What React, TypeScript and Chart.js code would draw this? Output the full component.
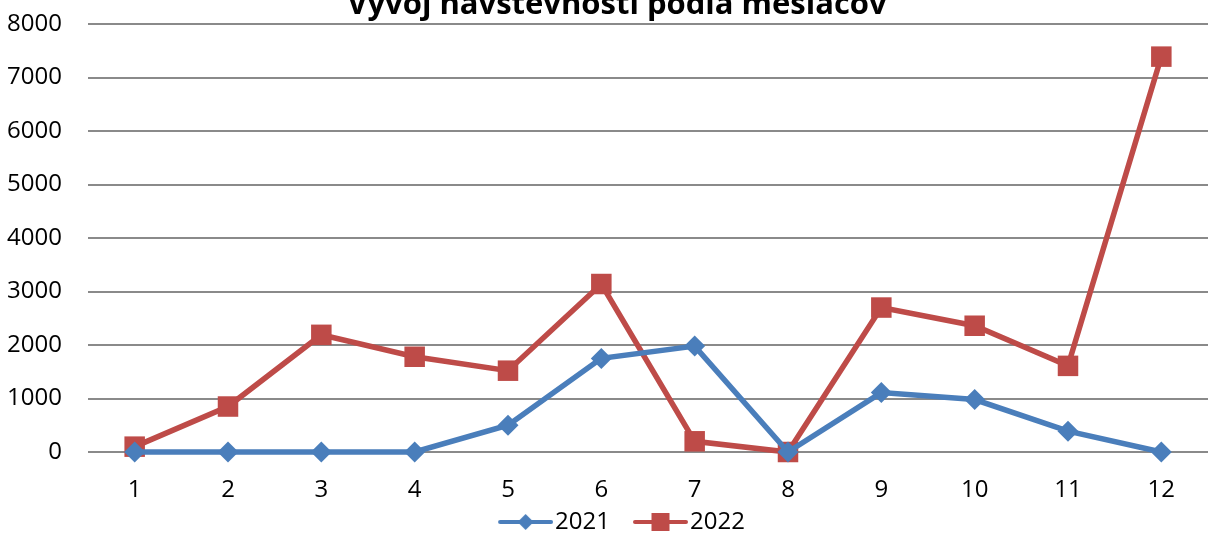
import React, { useEffect, useRef } from "react";
import { Chart, registerables } from "chart.js";

Chart.register(...registerables);

const months = ["1", "2", "3", "4", "5", "6", "7", "8", "9", "10", "11", "12"];
const seriesNames = ["2021", "2022"];
const visits2021 = [0, 0, 0, 0, 500, 1750, 1980, 0, 1110, 980, 390, 0];
const visits2022 = [100, 850, 2190, 1780, 1520, 3140, 200, 0, 2700, 2360, 1610, 7390];
const yMin = 0;
const yMax = 8000;
const yStep = 1000;
const chartTitle = "Vývoj návštevnosti podľa mesiacov";

const BLUE = "#4A7EBB";
const RED = "#BE4B48";
const FONT = "'Open Sans', 'Liberation Sans', sans-serif";

function makeLegendImage(color: string, kind: "diamond" | "square"): HTMLCanvasElement {
  const c = document.createElement("canvas");
  c.width = 83;
  c.height = 24;
  const ctx = c.getContext("2d")!;
  const L = 28;
  ctx.strokeStyle = color;
  ctx.lineWidth = 4;
  ctx.lineCap = "round";
  ctx.beginPath();
  ctx.moveTo(L + 2, 12);
  ctx.lineTo(81, 12);
  ctx.stroke();
  const cx = (L + 83) / 2;
  ctx.fillStyle = color;
  ctx.beginPath();
  if (kind === "diamond") {
    ctx.moveTo(cx, 12 - 8);
    ctx.lineTo(cx + 8, 12);
    ctx.lineTo(cx, 12 + 8);
    ctx.lineTo(cx - 8, 12);
    ctx.closePath();
  } else {
    ctx.rect(cx - 9, 12 - 9, 18, 18);
  }
  ctx.fill();
  return c;
}

const titlePlugin = {
  id: "cutTitle",
  afterLayout(chart: any) {
    if (chart.legend) chart.legend.left += 17;
  },
  afterDraw(chart: any) {
    const ctx = chart.ctx;
    ctx.save();
    ctx.font = `bold 31px ${FONT}`;
    ctx.fillStyle = "#000";
    ctx.textAlign = "center";
    ctx.textBaseline = "alphabetic";
    ctx.fillText(chartTitle, 617, 14);
    ctx.restore();
  },
};

export default function App() {
  const ref = useRef<HTMLCanvasElement>(null);
  useEffect(() => {
    if (!ref.current) return;
    const imgs = [makeLegendImage(BLUE, "diamond"), makeLegendImage(RED, "square")];
    const chart = new Chart(ref.current, {
      type: "line",
      data: {
        labels: months,
        datasets: [
          {
            label: seriesNames[0],
            data: visits2021,
            borderColor: BLUE,
            backgroundColor: BLUE,
            borderWidth: 5.5,
            pointStyle: "rectRot",
            pointRadius: 10.5,
            pointBorderWidth: 0,
            tension: 0,
            clip: false as any,
          },
          {
            label: seriesNames[1],
            data: visits2022,
            borderColor: RED,
            backgroundColor: RED,
            borderWidth: 5.5,
            pointStyle: "rect",
            pointRadius: 14.5,
            pointBorderWidth: 0,
            tension: 0,
            clip: false as any,
          },
        ],
      },
      options: {
        animation: false,
        responsive: true,
        maintainAspectRatio: false,
        layout: { autoPadding: false, padding: { top: 24, left: 0, right: 0, bottom: 0 } },
        plugins: {
          title: { display: false },
          tooltip: { enabled: false },
          legend: {
            position: "bottom",
            labels: {
              usePointStyle: true,
              pointStyleWidth: 63,
              padding: 5,
              color: "#000",
              font: { family: FONT, size: 24 },
              generateLabels: () =>
                seriesNames.map((n, i) => ({
                  text: n,
                  pointStyle: imgs[i] as any,
                  fillStyle: i === 0 ? BLUE : RED,
                  strokeStyle: i === 0 ? BLUE : RED,
                  lineWidth: 0,
                  hidden: false,
                  datasetIndex: i,
                  fontColor: "#000",
                })),
            },
          },
        },
        scales: {
          x: {
            offset: true,
            afterFit: (s: any) => {
              s.height = 53;
              s.paddingLeft = 0;
              s.paddingRight = 0;
            },
            grid: { display: false, drawTicks: false },
            border: { display: false },
            ticks: { padding: 24, color: "#000", font: { family: FONT, size: 24, lineHeight: 1.2 } },
          },
          y: {
            min: yMin,
            max: yMax,
            afterFit: (s: any) => {
              s.width = 88;
              s.paddingTop = 0;
              s.paddingBottom = 0;
            },
            grid: { color: "#8a8a8a", lineWidth: 2, drawTicks: false },
            border: { display: false },
            ticks: {
              stepSize: yStep,
              padding: 26,
              color: "#000",
              font: { family: FONT, size: 24 },
              callback: (v: any) => String(v),
            },
          },
        },
      },
      plugins: [titlePlugin],
    });
    return () => chart.destroy();
  }, []);
  return (
    <div style={{ position: "absolute", left: 0, top: 0, width: 1208, height: 534, overflow: "hidden", background: "#fff" }}>
      <div style={{ position: "absolute", left: 0, top: 0, width: 1208, height: 544 }}>
        <canvas ref={ref} />
      </div>
    </div>
  );
}
